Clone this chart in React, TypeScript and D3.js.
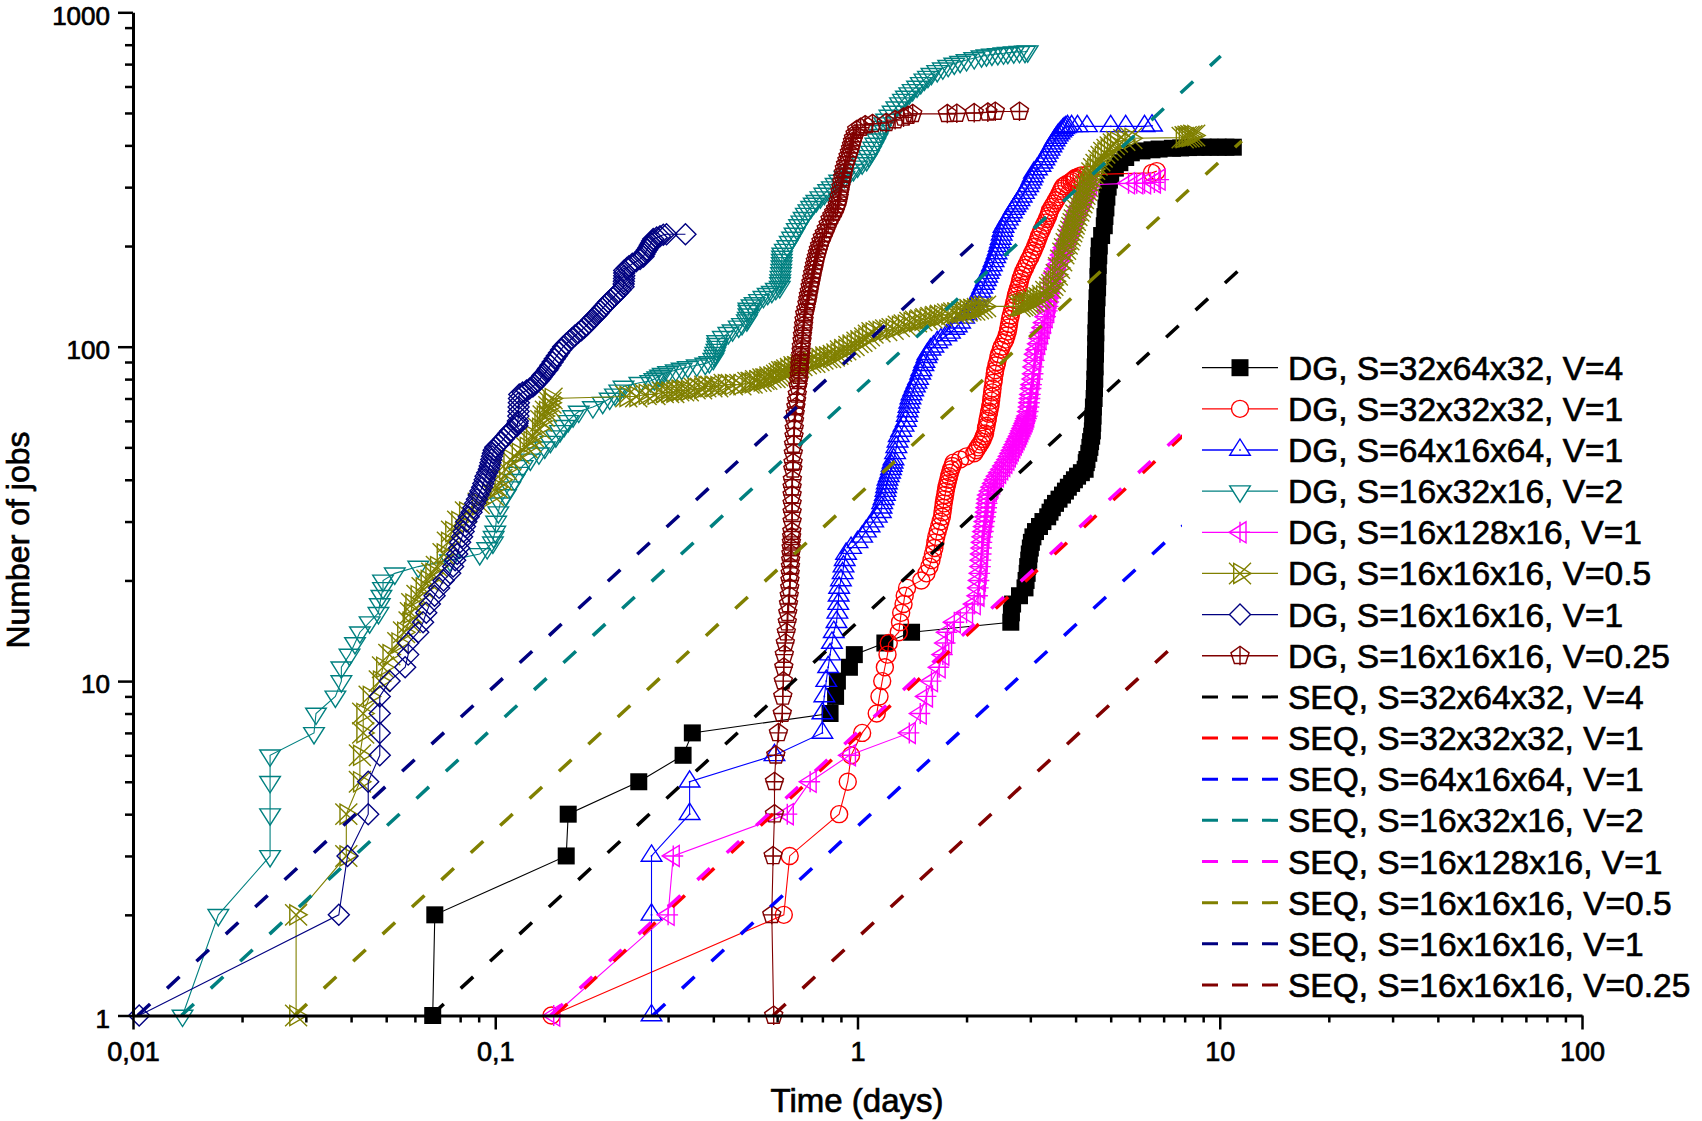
import { useEffect, useRef } from 'react';
import * as d3 from 'd3';

type Pt = [number, number];

// DG runs: [time (days), cumulative number of jobs]
const dgS32x64x32V4: Pt[] = [
  [0.0672, 1], [0.0681, 2], [0.157, 3], [0.159, 4], [0.249, 5], [0.33, 6], [0.35, 7], [0.84, 8], [0.87, 9],
  [0.88, 10], [0.95, 11], [0.98, 12], [1.19, 13], [1.41, 14], [2.65, 15], [2.66, 16], [2.68, 17], [2.8, 18],
  [2.9, 19], [2.92, 20], [2.94, 21], [2.95, 22], [2.97, 23], [2.98, 24], [3.0, 25], [3.02, 26], [3.05, 27],
  [3.1, 28], [3.18, 29], [3.25, 30], [3.35, 31], [3.4, 32], [3.45, 33], [3.52, 34], [3.6, 35], [3.68, 36],
  [3.75, 37], [3.82, 38], [3.9, 39], [3.97, 40], [4.05, 41], [4.15, 42], [4.25, 43], [4.28, 45], [4.3, 46],
  [4.35, 48], [4.38, 50], [4.4, 52], [4.43, 54], [4.45, 56], [4.46, 59], [4.47, 62], [4.48, 66], [4.5, 70],
  [4.51, 75], [4.52, 80], [4.53, 87], [4.54, 95], [4.545, 102], [4.55, 110], [4.56, 120], [4.57, 130],
  [4.585, 140], [4.6, 150], [4.61, 162], [4.62, 175], [4.635, 187], [4.65, 200], [4.72, 215], [4.8, 230],
  [4.82, 245], [4.85, 260], [4.88, 280], [4.92, 300], [4.96, 315], [5.0, 330], [5.15, 342], [5.3, 355],
  [5.5, 368], [5.7, 380], [6.1, 385], [6.5, 388], [6.8, 390], [7.4, 392], [7.8, 393], [8.2, 394], [8.6, 395],
  [9.0, 395], [9.4, 395], [9.9, 395], [10.4, 395], [10.9, 395],
];

const dgS32x32x32V1: Pt[] = [
  [0.143, 1], [0.626, 2], [0.65, 3], [0.89, 4], [0.94, 5], [0.96, 6], [1.03, 7], [1.13, 8], [1.15, 9],
  [1.17, 10], [1.19, 11], [1.21, 12], [1.22, 13], [1.3, 14], [1.31, 15], [1.32, 16], [1.34, 17], [1.35, 18],
  [1.37, 19], [1.5, 20], [1.55, 21], [1.58, 22], [1.6, 23], [1.615, 24], [1.63, 25], [1.64, 26], [1.65, 27],
  [1.665, 28], [1.68, 29], [1.695, 30], [1.71, 31], [1.717, 32], [1.723, 33], [1.73, 34], [1.737, 35],
  [1.745, 36], [1.752, 37], [1.76, 38], [1.77, 39], [1.78, 40], [1.79, 41], [1.8, 42], [1.813, 43],
  [1.827, 44], [1.84, 45], [1.92, 46], [2.0, 47], [2.1, 48], [2.125, 49], [2.15, 50], [2.175, 51], [2.2, 52],
  [2.217, 53], [2.233, 54], [2.25, 55], [2.263, 57], [2.27, 58], [2.283, 60], [2.29, 61], [2.303, 63],
  [2.31, 64], [2.323, 66], [2.33, 67], [2.338, 69], [2.345, 71], [2.353, 73], [2.36, 75], [2.372, 78],
  [2.38, 80], [2.392, 83], [2.4, 85], [2.418, 88], [2.43, 90], [2.448, 93], [2.46, 95], [2.484, 98],
  [2.5, 100], [2.535, 103], [2.56, 105], [2.58, 108], [2.6, 111], [2.61, 114], [2.62, 117], [2.635, 121],
  [2.65, 124], [2.67, 128], [2.69, 131], [2.705, 135], [2.72, 138], [2.735, 142], [2.75, 145], [2.77, 149],
  [2.79, 152], [2.805, 156], [2.82, 160], [2.845, 164], [2.87, 168], [2.9, 172], [2.93, 176], [2.965, 181],
  [3.0, 185], [3.03, 190], [3.06, 194], [3.09, 199], [3.12, 204], [3.145, 209], [3.17, 214], [3.2, 219],
  [3.23, 224], [3.265, 230], [3.3, 235], [3.33, 241], [3.36, 246], [3.38, 251], [3.4, 256], [3.445, 262],
  [3.49, 268], [3.53, 274], [3.57, 280], [3.605, 286], [3.64, 292], [3.67, 297], [3.7, 302], [3.77, 306],
  [3.85, 310], [3.9, 313], [3.95, 316], [3.975, 318], [4.0, 320], [4.08, 323], [4.15, 325], [4.3, 327],
  [6.5, 331], [6.7, 335],
];

const dgS64x16x64V1: Pt[] = [
  [0.27, 1], [0.27, 2], [0.27, 3], [0.344, 4], [0.344, 5], [0.59, 6], [0.8, 7], [0.8, 8], [0.81, 9],
  [0.82, 10], [0.83, 11], [0.84, 12], [0.85, 13], [0.86, 14], [0.875, 15], [0.88, 16], [0.885, 17],
  [0.887, 18], [0.89, 19], [0.9, 20], [0.91, 21], [0.915, 22], [0.922, 23], [0.93, 24], [0.96, 25],
  [1.0, 26], [1.03, 27], [1.055, 28], [1.08, 29], [1.105, 30], [1.13, 31], [1.16, 32], [1.165, 33],
  [1.17, 34], [1.18, 35], [1.19, 36], [1.195, 37], [1.2, 38], [1.205, 39], [1.21, 40], [1.22, 41],
  [1.23, 42], [1.237, 43], [1.243, 44], [1.25, 45], [1.257, 46], [1.27, 48], [1.28, 50], [1.29, 52],
  [1.3, 54], [1.32, 56], [1.34, 58], [1.36, 60], [1.368, 62], [1.375, 64], [1.383, 66], [1.39, 68],
  [1.4, 70], [1.41, 72], [1.425, 74], [1.44, 76], [1.455, 78], [1.47, 80], [1.49, 83], [1.5, 85],
  [1.52, 88], [1.53, 90], [1.55, 93], [1.56, 95], [1.59, 98], [1.62, 100], [1.66, 103], [1.7, 105],
  [1.76, 108], [1.8, 110], [1.85, 113], [1.88, 115], [1.92, 118], [1.97, 122], [2.0, 125], [2.04, 128],
  [2.07, 131], [2.1, 134], [2.13, 138], [2.16, 142], [2.185, 146], [2.21, 150], [2.235, 154], [2.26, 158],
  [2.28, 162], [2.3, 166], [2.325, 170], [2.35, 175], [2.375, 180], [2.4, 185], [2.42, 190], [2.44, 195],
  [2.455, 200], [2.47, 205], [2.485, 210], [2.5, 216], [2.515, 222], [2.53, 228], [2.565, 234], [2.6, 240],
  [2.635, 246], [2.67, 252], [2.7, 258], [2.73, 263], [2.765, 268], [2.8, 274], [2.84, 281], [2.88, 288],
  [2.92, 295], [2.96, 302], [2.99, 309], [3.02, 316], [3.045, 323], [3.07, 331], [3.13, 339], [3.2, 347],
  [3.24, 355], [3.28, 363], [3.315, 371], [3.35, 380], [3.39, 388], [3.43, 397], [3.465, 405], [3.5, 414],
  [3.535, 421], [3.57, 428], [3.61, 434], [3.65, 440], [3.685, 445], [3.72, 450], [3.76, 453], [3.8, 456],
  [3.9, 456], [4.05, 456], [4.3, 456], [5.0, 456], [5.5, 456], [6.2, 456], [6.5, 458],
];

const dgS16x32x16V2: Pt[] = [
  [0.0137, 1], [0.0172, 2], [0.0239, 3], [0.0239, 4], [0.0239, 5], [0.0239, 6], [0.0316, 7], [0.032, 8],
  [0.0362, 9], [0.0376, 10], [0.0376, 11], [0.0396, 12], [0.041, 13], [0.0423, 14], [0.045, 15],
  [0.0476, 16], [0.048, 17], [0.0485, 18], [0.049, 19], [0.049, 20], [0.0528, 21], [0.0613, 22],
  [0.075, 23], [0.0906, 24], [0.095, 25], [0.0985, 26], [0.099, 27], [0.1, 28], [0.1006, 30], [0.102, 32],
  [0.1032, 34], [0.107, 36], [0.11, 38], [0.113, 40], [0.116, 42], [0.119, 44], [0.125, 46], [0.132, 48],
  [0.137, 50], [0.142, 52], [0.147, 54], [0.151, 56], [0.155, 58], [0.159, 60], [0.164, 62], [0.17, 64],
  [0.186, 66], [0.198, 68], [0.207, 70], [0.214, 72], [0.22, 74], [0.226, 76], [0.25, 78], [0.268, 79],
  [0.275, 80], [0.28, 81], [0.285, 82], [0.29, 83], [0.3, 84], [0.315, 85], [0.327, 86], [0.34, 87],
  [0.36, 88], [0.38, 89], [0.39, 90], [0.4, 92], [0.403, 94], [0.405, 96], [0.408, 98], [0.41, 100],
  [0.41, 102], [0.41, 104], [0.425, 107], [0.44, 110], [0.452, 112], [0.47, 115], [0.48, 117], [0.495, 120],
  [0.498, 122], [0.5, 125], [0.5, 128], [0.5, 130], [0.51, 133], [0.52, 135], [0.535, 138], [0.55, 141],
  [0.565, 144], [0.58, 146], [0.595, 149], [0.61, 151], [0.611, 155], [0.612, 158], [0.613, 162],
  [0.615, 166], [0.616, 170], [0.617, 174], [0.618, 178], [0.618, 182], [0.619, 186], [0.62, 190],
  [0.63, 195], [0.64, 200], [0.65, 206], [0.66, 212], [0.67, 218], [0.68, 225], [0.69, 231], [0.7, 237],
  [0.71, 243], [0.72, 250], [0.732, 256], [0.745, 262], [0.757, 268], [0.77, 273], [0.79, 280], [0.81, 287],
  [0.83, 294], [0.85, 300], [0.87, 307], [0.89, 314], [0.92, 322], [0.95, 330], [0.975, 338], [1.0, 346],
  [1.03, 354], [1.06, 362], [1.075, 372], [1.09, 383], [1.105, 394], [1.12, 405], [1.135, 417], [1.15, 430],
  [1.16, 442], [1.17, 455], [1.185, 466], [1.2, 478], [1.225, 491], [1.25, 505], [1.28, 520], [1.31, 535],
  [1.335, 548], [1.36, 560], [1.39, 573], [1.42, 586], [1.46, 600], [1.495, 615], [1.53, 630], [1.565, 642],
  [1.6, 655], [1.66, 668], [1.72, 680], [1.78, 692], [1.85, 703], [1.92, 712], [2.0, 720], [2.1, 730],
  [2.2, 739], [2.27, 744], [2.35, 748], [2.44, 751], [2.53, 754], [2.6, 757], [2.7, 760], [2.8, 762],
  [2.9, 763], [2.95, 765],
];

const dgS16x128x16V1: Pt[] = [
  [0.145, 1], [0.3, 2], [0.31, 3], [0.64, 4], [0.74, 5], [0.95, 6], [1.39, 7], [1.49, 8], [1.55, 9],
  [1.6, 10], [1.68, 11], [1.72, 12], [1.75, 13], [1.77, 14], [1.85, 15], [2.0, 16], [2.1, 17], [2.15, 18],
  [2.16, 19], [2.17, 20], [2.18, 21], [2.19, 22], [2.195, 23], [2.2, 24], [2.205, 25], [2.21, 26],
  [2.22, 27], [2.23, 28], [2.24, 29], [2.25, 30], [2.26, 31], [2.27, 32], [2.278, 33], [2.285, 34],
  [2.292, 35], [2.3, 36], [2.325, 37], [2.35, 38], [2.375, 39], [2.4, 40], [2.433, 41], [2.467, 42],
  [2.5, 43], [2.533, 44], [2.567, 45], [2.6, 46], [2.625, 47], [2.65, 48], [2.675, 49], [2.7, 50],
  [2.725, 51], [2.75, 52], [2.775, 53], [2.8, 54], [2.82, 55], [2.84, 56], [2.86, 57], [2.88, 58],
  [2.9, 59], [2.92, 60], [2.935, 61], [2.95, 62], [2.965, 64], [2.98, 66], [2.99, 68], [3.0, 70],
  [3.008, 72], [3.02, 75], [3.03, 77], [3.05, 80], [3.06, 83], [3.07, 87], [3.085, 91], [3.1, 95],
  [3.13, 98], [3.16, 102], [3.19, 106], [3.22, 110], [3.25, 114], [3.28, 118], [3.315, 123], [3.35, 128],
  [3.365, 132], [3.38, 136], [3.4, 140], [3.42, 145], [3.44, 150], [3.46, 155], [3.48, 160], [3.5, 166],
  [3.535, 171], [3.57, 176], [3.61, 182], [3.65, 188], [3.685, 193], [3.72, 198], [3.76, 203], [3.8, 209],
  [3.835, 215], [3.87, 222], [3.91, 228], [3.95, 235], [3.985, 241], [4.02, 248], [4.06, 255], [4.1, 262],
  [4.15, 269], [4.2, 277], [4.25, 285], [4.3, 293], [4.35, 299], [4.4, 305], [5.6, 308], [5.9, 308],
  [6.2, 308], [6.6, 310], [6.8, 316],
];

const dgS16x16x16V05: Pt[] = [
  [0.0282, 1], [0.0282, 2], [0.0388, 3], [0.0388, 4], [0.0423, 5], [0.0423, 6], [0.0432, 7], [0.0432, 8],
  [0.045, 9], [0.048, 10], [0.049, 11], [0.051, 12], [0.054, 13], [0.056, 14], [0.058, 15], [0.0585, 16],
  [0.059, 17], [0.061, 18], [0.063, 19], [0.065, 20], [0.067, 21], [0.069, 22], [0.072, 24], [0.074, 26],
  [0.076, 28], [0.079, 30], [0.083, 32], [0.09, 34], [0.0985, 36], [0.101, 38], [0.104, 40], [0.107, 43],
  [0.11, 46], [0.116, 48], [0.122, 50], [0.125, 52], [0.127, 54], [0.132, 57], [0.134, 60], [0.136, 62],
  [0.138, 64], [0.141, 66], [0.142, 68], [0.143, 70], [0.23, 71], [0.245, 71], [0.26, 72], [0.275, 72],
  [0.29, 73], [0.3, 73], [0.31, 73], [0.32, 74], [0.33, 74], [0.34, 74], [0.355, 75], [0.37, 75], [0.38, 76],
  [0.395, 76], [0.41, 76], [0.43, 77], [0.45, 77], [0.475, 77], [0.5, 78], [0.51, 78], [0.525, 79],
  [0.54, 79], [0.55, 80], [0.56, 80], [0.575, 81], [0.59, 81], [0.6, 82], [0.61, 83], [0.62, 84], [0.63, 84],
  [0.64, 85], [0.655, 86], [0.67, 87], [0.685, 87], [0.7, 88], [0.72, 89], [0.74, 90], [0.76, 90],
  [0.78, 91], [0.8, 92], [0.82, 93], [0.84, 93], [0.86, 94], [0.88, 95], [0.9, 97], [0.925, 98], [0.95, 100],
  [0.975, 101], [1.0, 103], [1.025, 104], [1.05, 106], [1.075, 108], [1.1, 110], [1.15, 111], [1.2, 112],
  [1.25, 113], [1.3, 115], [1.35, 116], [1.4, 118], [1.45, 119], [1.5, 120], [1.55, 121], [1.6, 122],
  [1.65, 123], [1.7, 124], [1.78, 125], [1.85, 126], [1.9, 126], [1.95, 127], [2.0, 128], [2.05, 129],
  [2.1, 129], [2.15, 130], [2.2, 131], [2.25, 132], [2.8, 132], [2.85, 133], [2.9, 134], [2.95, 135],
  [3.0, 136], [3.06, 137], [3.12, 139], [3.18, 140], [3.25, 142], [3.32, 146], [3.4, 150], [3.45, 153],
  [3.5, 157], [3.55, 164], [3.6, 172], [3.65, 181], [3.7, 190], [3.74, 196], [3.78, 203], [3.82, 209],
  [3.85, 215], [3.89, 221], [3.92, 227], [3.95, 233], [3.98, 239], [4.02, 247], [4.07, 255], [4.11, 262],
  [4.15, 270], [4.19, 278], [4.23, 286], [4.27, 294], [4.3, 302], [4.35, 311], [4.4, 320], [4.45, 330],
  [4.5, 340], [4.57, 350], [4.65, 360], [4.72, 370], [4.8, 380], [4.9, 388], [5.0, 395], [5.1, 403],
  [5.2, 410], [5.45, 415], [5.7, 420], [7.9, 422], [8.05, 424], [8.2, 425], [8.35, 427], [8.5, 428],
];

const dgS16x16x16V1: Pt[] = [
  [0.0104, 1], [0.037, 2], [0.0391, 3], [0.0446, 4], [0.0446, 5], [0.048, 6], [0.048, 7], [0.048, 8],
  [0.048, 9], [0.0511, 10], [0.0564, 11], [0.0575, 12], [0.0575, 13], [0.0613, 14], [0.0632, 15],
  [0.0645, 16], [0.066, 17], [0.068, 18], [0.07, 19], [0.072, 20], [0.0751, 21], [0.0765, 22],
  [0.0775, 23], [0.0785, 24], [0.0795, 25], [0.08, 26], [0.081, 27], [0.0818, 28], [0.0825, 29],
  [0.0832, 30], [0.0845, 31], [0.086, 32], [0.087, 33], [0.088, 34], [0.089, 35], [0.09, 36], [0.091, 37],
  [0.092, 38], [0.0927, 39], [0.0935, 40], [0.094, 41], [0.095, 42], [0.096, 43], [0.0965, 44], [0.097, 45],
  [0.0975, 46], [0.098, 47], [0.0985, 48], [0.099, 49], [0.1, 50], [0.102, 51], [0.104, 52], [0.1055, 53],
  [0.107, 54], [0.1085, 55], [0.11, 56], [0.1125, 57], [0.115, 58], [0.1152, 59], [0.1155, 60],
  [0.1158, 62], [0.116, 64], [0.116, 66], [0.1162, 68], [0.1163, 70], [0.1165, 72], [0.119, 73],
  [0.122, 74], [0.1245, 75], [0.127, 76], [0.1285, 77], [0.13, 78], [0.1315, 79], [0.133, 80], [0.134, 81],
  [0.135, 82], [0.1365, 83], [0.139, 85], [0.14, 86], [0.142, 88], [0.144, 90], [0.146, 92], [0.148, 94],
  [0.15, 96], [0.152, 98], [0.154, 100], [0.157, 102], [0.16, 104], [0.163, 106], [0.166, 108],
  [0.1695, 110], [0.173, 112], [0.176, 114], [0.179, 116], [0.1815, 118], [0.184, 120], [0.187, 122],
  [0.19, 124], [0.1925, 126], [0.195, 128], [0.1975, 130], [0.2, 132], [0.2025, 134], [0.205, 136],
  [0.208, 138], [0.211, 140], [0.214, 142], [0.218, 145], [0.222, 148], [0.226, 151], [0.2262, 154],
  [0.2265, 157], [0.2267, 160], [0.227, 163], [0.227, 166], [0.227, 169], [0.231, 172], [0.234, 174],
  [0.239, 177], [0.245, 180], [0.251, 183], [0.2566, 186], [0.258, 189], [0.26, 192], [0.2625, 195],
  [0.265, 198], [0.267, 201], [0.269, 204], [0.271, 207], [0.273, 210], [0.279, 212], [0.285, 214],
  [0.291, 216], [0.297, 217], [0.335, 217],
];

const dgS16x16x16V025: Pt[] = [
  [0.587, 1], [0.58, 2], [0.585, 3], [0.59, 4], [0.59, 5], [0.595, 6], [0.605, 7], [0.62, 8], [0.622, 9],
  [0.624, 10], [0.626, 11], [0.628, 12], [0.632, 13], [0.636, 14], [0.64, 15], [0.642, 16], [0.645, 17],
  [0.648, 18], [0.65, 19], [0.651, 20], [0.652, 21], [0.653, 22], [0.654, 23], [0.655, 24], [0.656, 25],
  [0.657, 26], [0.658, 27], [0.659, 28], [0.66, 30], [0.66, 32], [0.66, 34], [0.66, 36], [0.66, 38],
  [0.661, 40], [0.663, 43], [0.664, 45], [0.665, 48], [0.666, 51], [0.668, 54], [0.669, 57], [0.67, 60],
  [0.673, 63], [0.676, 66], [0.679, 69], [0.682, 72], [0.685, 76], [0.688, 79], [0.69, 82], [0.692, 85],
  [0.693, 88], [0.695, 91], [0.697, 94], [0.699, 97], [0.7, 100], [0.703, 104], [0.705, 108], [0.708, 112],
  [0.71, 116], [0.712, 120], [0.715, 125], [0.72, 129], [0.725, 134], [0.729, 138], [0.732, 142],
  [0.736, 146], [0.74, 151], [0.744, 155], [0.748, 160], [0.752, 165], [0.757, 170], [0.761, 175],
  [0.765, 180], [0.77, 185], [0.775, 190], [0.78, 195], [0.786, 200], [0.793, 206], [0.8, 212], [0.81, 218],
  [0.82, 225], [0.83, 232], [0.84, 240], [0.85, 246], [0.86, 252], [0.87, 258], [0.88, 265], [0.885, 272],
  [0.89, 280], [0.895, 290], [0.9, 300], [0.905, 310], [0.91, 320], [0.915, 330], [0.92, 340], [0.927, 350],
  [0.935, 360], [0.942, 370], [0.95, 380], [0.957, 390], [0.963, 400], [0.969, 410], [0.975, 420],
  [0.985, 432], [0.995, 445], [1.02, 452], [1.05, 460], [1.1, 464], [1.2, 467], [1.27, 476], [1.34, 485],
  [1.38, 491], [1.42, 497], [1.77, 497], [1.88, 498], [2.1, 500], [2.29, 502], [2.4, 505], [2.8, 505],
];

// SEQ estimates: straight lines (start, end)
const seqS32x64x32V4: Pt[] = [[0.0666, 1], [11.4, 171]];
const seqS32x32x32V1: Pt[] = [[0.146, 1], [10, 68.5]];
const seqS64x16x64V1: Pt[] = [[0.272, 1], [10, 36.8]];
const seqS16x32x16V2: Pt[] = [[0.0136, 1], [10.06, 740]];
const seqS16x128x16V1: Pt[] = [[0.142, 1], [10, 70.4]];
const seqS16x16x16V05: Pt[] = [[0.0279, 1], [11.5, 412]];
const seqS16x16x16V1: Pt[] = [[0.0103, 1], [2.15, 209]];
const seqS16x16x16V025: Pt[] = [[0.585, 1], [10, 17.1]];

const caseLabels = [
  'S=32x64x32, V=4', 'S=32x32x32, V=1', 'S=64x16x64, V=1', 'S=16x32x16, V=2',
  'S=16x128x16, V=1', 'S=16x16x16, V=0.5', 'S=16x16x16, V=1', 'S=16x16x16, V=0.25',
];

const xTickValues = [0.01, 0.1, 1, 10, 100];
const xTickLabels = ['0,01', '0,1', '1', '10', '100'];
const yTickValues = [1, 10, 100, 1000];
const yTickLabels = ['1', '10', '100', '1000'];

const FONT = '"Liberation Sans", Arial, Helvetica, sans-serif';
const TEXT_STROKE = 0.7;
const colors = ['#000000', '#FF0000', '#0000FF', '#008080', '#FF00FF', '#808000', '#000080', '#800000'];

type Part = { d: string; kind: 'solid' | 'hollow' | 'stroke' };
const markers: Part[][] = [
  [{ d: 'M-8.5,-8.5H8.5V8.5H-8.5Z', kind: 'solid' }],
  [{ d: 'M8.5,0A8.5,8.5,0,1,1,-8.5,0A8.5,8.5,0,1,1,8.5,0Z', kind: 'hollow' }],
  [{ d: 'M0,-11L10.3,5.3L-10.3,5.3Z', kind: 'hollow' }, { d: 'M-0.8,-0.8H0.8V0.8H-0.8Z', kind: 'solid' }],
  [{ d: 'M-10.3,-5.3L10.3,-5.3L0,11Z', kind: 'hollow' }],
  [{ d: 'M-11,0L6,-10.5L6,10.5Z', kind: 'hollow' }, { d: 'M0,-10.5V10.5M-10,0H10', kind: 'stroke' }],
  [{ d: 'M-6.3,-10L11,0L-6.3,10Z', kind: 'stroke' }, { d: 'M-11,-10.7L11,10.7M-11,10.7L11,-10.7', kind: 'stroke' }],
  [{ d: 'M0,-10.5L10.5,0L0,10.5L-10.5,0Z', kind: 'hollow' }],
  [{ d: 'M0,-9.5L9.04,-2.94L5.58,7.69L-5.58,7.69L-9.04,-2.94Z', kind: 'hollow' }, { d: 'M0,-9.5V9.5M-9,0H9', kind: 'stroke' }],
];

export default function App() {
  const svgRef = useRef<SVGSVGElement>(null);

  useEffect(() => {
    if (!svgRef.current) return;
    const svg = d3.select(svgRef.current);
    svg.selectAll('*').remove();

    const dgSeries = [dgS32x64x32V4, dgS32x32x32V1, dgS64x16x64V1, dgS16x32x16V2,
      dgS16x128x16V1, dgS16x16x16V05, dgS16x16x16V1, dgS16x16x16V025];
    const seqSeries = [seqS32x64x32V4, seqS32x32x32V1, seqS64x16x64V1, seqS16x32x16V2,
      seqS16x128x16V1, seqS16x16x16V05, seqS16x16x16V1, seqS16x16x16V025];

    const x = d3.scaleLog().domain([0.01, 100]).range([133, 1582]);
    const y = d3.scaleLog().domain([1, 1000]).range([1015.5, 12.3]);

    const line = d3.line<Pt>().x(d => x(d[0])).y(d => y(d[1]));

    const drawMarkers = (sel: any, parts: Part[], color: string, bg: string) => {
      parts.forEach(p => {
        sel.append('path')
          .attr('d', p.d)
          .attr('fill', p.kind === 'solid' ? color : p.kind === 'hollow' ? bg : 'none')
          .attr('stroke', p.kind === 'solid' ? 'none' : color)
          .attr('stroke-width', 1.4);
      });
    };

    // DG series: thin line + symbols
    const plot = svg.append('g');
    dgSeries.forEach((data, i) => {
      const sg = plot.append('g');
      sg.append('path')
        .datum(data)
        .attr('d', line)
        .attr('fill', 'none')
        .attr('stroke', colors[i])
        .attr('stroke-width', 1.1);
      const pts = sg.selectAll('g.pt')
        .data(data)
        .join('g')
        .attr('class', 'pt')
        .attr('transform', (d: Pt) => `translate(${x(d[0])},${y(d[1])})`);
      drawMarkers(pts, markers[i], colors[i], 'none');
    });

    // SEQ series: dashed straight lines
    seqSeries.forEach((data, i) => {
      plot.append('path')
        .datum(data)
        .attr('d', line)
        .attr('fill', 'none')
        .attr('stroke', colors[i])
        .attr('stroke-width', 3.5)
        .attr('stroke-dasharray', '17 23');
    });

    // axes
    const xMinor = x.ticks().filter(v => !xTickValues.includes(v));
    const yMinor = y.ticks().filter(v => !yTickValues.includes(v));

    const gx = svg.append('g').attr('transform', 'translate(0,1015.5)');
    gx.append('g').call(d3.axisBottom(x).tickValues(xMinor).tickFormat(() => '').tickSize(7).tickSizeOuter(0))
      .call((g: any) => g.select('.domain').remove());
    gx.append('g').call(d3.axisBottom(x).tickValues(xTickValues)
      .tickFormat((_d: any, i: number) => xTickLabels[i]).tickSize(14).tickPadding(12).tickSizeOuter(0))
      .attr('font-size', 27).attr('font-family', FONT);

    const gy = svg.append('g').attr('transform', 'translate(133,0)');
    gy.append('g').call(d3.axisLeft(y).tickValues(yMinor).tickFormat(() => '').tickSize(8).tickSizeOuter(0))
      .call((g: any) => g.select('.domain').remove());
    gy.append('g').call(d3.axisLeft(y).tickValues(yTickValues)
      .tickFormat((_d: any, i: number) => yTickLabels[i]).tickSize(15).tickPadding(8).tickSizeOuter(0))
      .attr('font-size', 26).attr('font-family', FONT)
      .selectAll('text').attr('dy', '0.45em');

    svg.selectAll('.tick line').attr('stroke-width', 2.5);
    svg.selectAll('.domain').attr('stroke-width', 3);
    svg.selectAll('.tick text').attr('fill', '#000').attr('stroke', '#000').attr('stroke-width', TEXT_STROKE);

    const label = (sel: any) => sel
      .attr('font-family', FONT)
      .attr('fill', '#000')
      .attr('stroke', '#000')
      .attr('stroke-width', TEXT_STROKE);

    svg.append('text')
      .attr('x', 857).attr('y', 1112)
      .attr('text-anchor', 'middle')
      .attr('font-size', 33)
      .call(label)
      .text('Time (days)');

    svg.append('text')
      .attr('transform', 'translate(29,540) rotate(-90)')
      .attr('text-anchor', 'middle')
      .attr('font-size', 32)
      .call(label)
      .text('Number of jobs');

    // legend
    const legend = svg.append('g');
    legend.append('rect').attr('x', 1182).attr('y', 345).attr('width', 520).attr('height', 665).attr('fill', '#fff');
    const rowY = (i: number) => 367.7 + 41.15 * i;
    caseLabels.forEach((lab, i) => {
      const yy = rowY(i);
      legend.append('line').attr('x1', 1202).attr('x2', 1278).attr('y1', yy).attr('y2', yy)
        .attr('stroke', colors[i]).attr('stroke-width', 1.3);
      const mg = legend.append('g').attr('transform', `translate(1240,${yy})`);
      drawMarkers(mg, markers[i], colors[i], '#fff');
      legend.append('text').attr('x', 1288).attr('y', yy + 12)
        .attr('font-size', 33.5).call(label).text(`DG, ${lab}`);
    });
    caseLabels.forEach((lab, i) => {
      const yy = rowY(i + 8);
      legend.append('line').attr('x1', 1202).attr('x2', 1278).attr('y1', yy).attr('y2', yy)
        .attr('stroke', colors[i]).attr('stroke-width', 3).attr('stroke-dasharray', '16 14');
      legend.append('text').attr('x', 1288).attr('y', yy + 12)
        .attr('font-size', 33.5).call(label).text(`SEQ, ${lab}`);
    });
  }, []);

  return (
    <svg
      ref={svgRef}
      width={1702}
      height={1121}
      style={{ position: 'absolute', left: 0, top: 0, background: '#fff', display: 'block' }}
    />
  );
}
